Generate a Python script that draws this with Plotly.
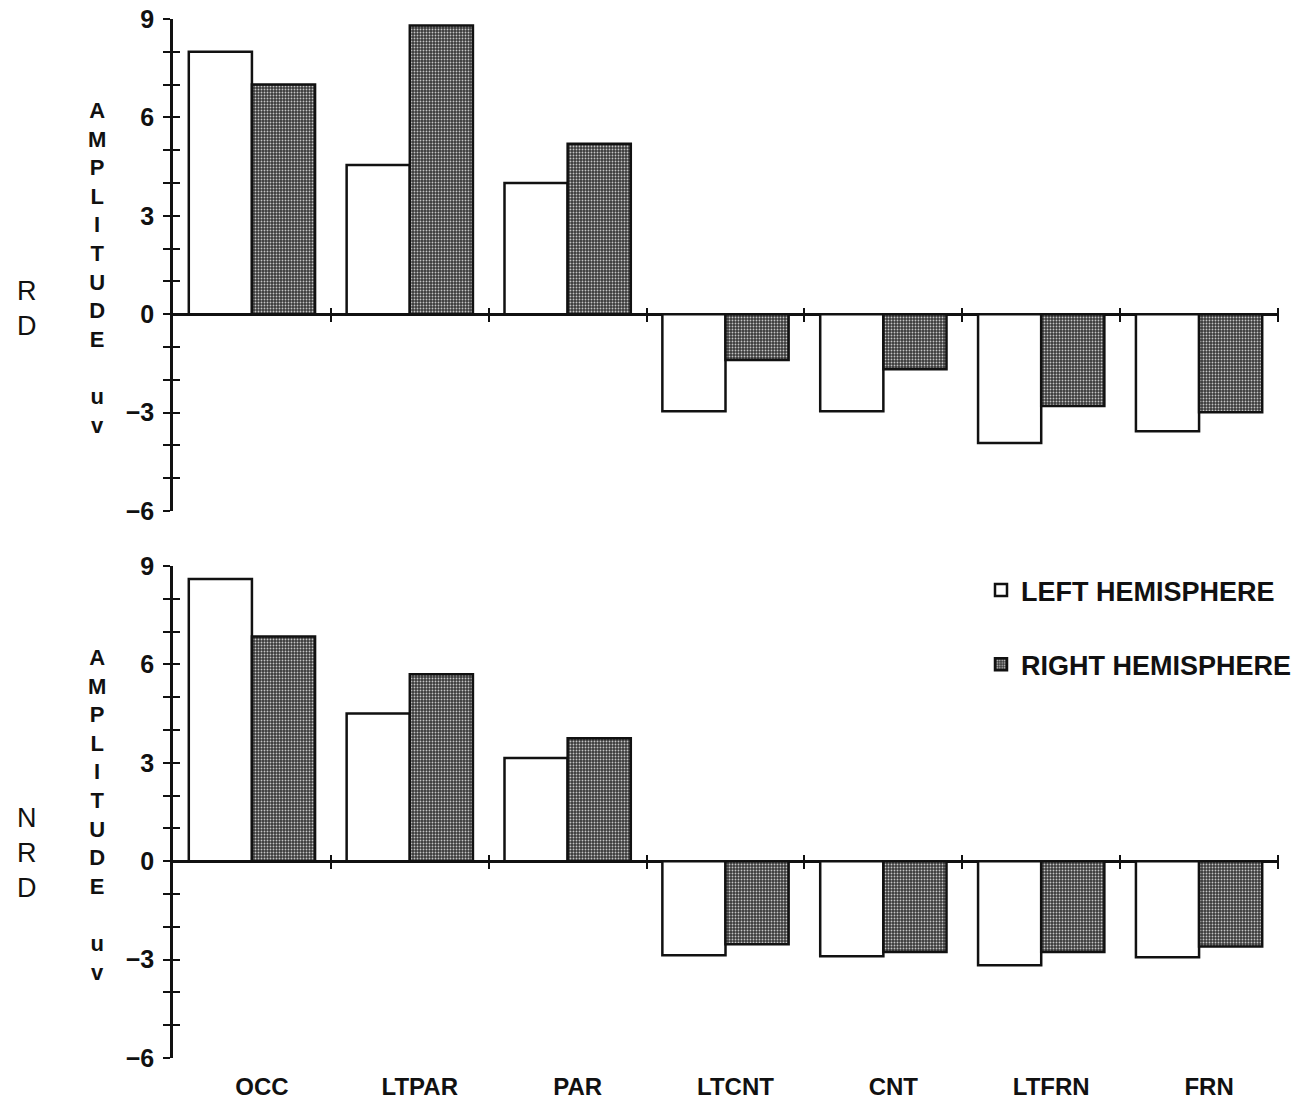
import plotly.graph_objects as go

categories = ["OCC", "LTPAR", "PAR", "LTCNT", "CNT", "LTFRN", "FRN"]
rd_left = [8.0, 4.55, 4.0, -2.96, -2.96, -3.93, -3.57]
rd_right = [7.0, 8.8, 5.2, -1.4, -1.68, -2.8, -2.99]
nrd_left = [8.6, 4.5, 3.15, -2.87, -2.9, -3.17, -2.93]
nrd_right = [6.85, 5.7, 3.75, -2.53, -2.77, -2.77, -2.6]

y_ticks = list(range(-6, 10))
y_ticktext = ["\u22126", "", "", "\u22123", "", "", "0", "", "", "3", "", "", "6", "", "", "9"]
panel_names = ["RD", "NRD"]
series_names = ["LEFT HEMISPHERE", "RIGHT HEMISPHERE"]
axis_title_word = "AMPLITUDE"
axis_unit_word = "uv"

W, H = 1301, 1112
ML, MR, MT, MB = 173, 23, 19, 54
PW = W - ML - MR
PH = H - MT - MB
YMIN, YMAX = -6, 9

def px_x(p):
    return (p - ML) / PW

def px_y(p):
    return (H - MB - p) / PH

top_dom = [px_y(511), 1.0]
bot_dom = [0.0, px_y(566)]

FONT = "Liberation Sans, Arial, sans-serif"
BLACK = "#111111"

n = len(categories)
xs = list(range(n))
xr = [-0.5, n - 0.5]
bounds = [i + 0.5 for i in range(n)]

fig = go.Figure()

left_marker = dict(color="white", line=dict(color=BLACK, width=2.5))
right_marker = dict(
    color="#3a3a3a",
    line=dict(color=BLACK, width=2.5),
    pattern=dict(shape=".", fgcolor="#c4c4c4", bgcolor="#3a3a3a", size=3, solidity=0.3, fillmode="replace"),
)

data_sets = [(rd_left, rd_right, "x", "y"), (nrd_left, nrd_right, "x2", "y2")]
for k, (lv, rv, xa, ya) in enumerate(data_sets):
    fig.add_trace(go.Bar(x=xs, y=lv, name=series_names[0], marker=left_marker, xaxis=xa, yaxis=ya,
                         legendgroup="L", showlegend=(k == 1)))
    fig.add_trace(go.Bar(x=xs, y=rv, name=series_names[1], marker=right_marker, xaxis=xa, yaxis=ya,
                         legendgroup="R", showlegend=(k == 1)))

def zero_pos(dom):
    return dom[0] + (dom[1] - dom[0]) * (0 - YMIN) / (YMAX - YMIN)

yax_common = dict(range=[YMIN, YMAX], tickmode="array", tickvals=y_ticks, showgrid=False,
                  ticklen=7, tickwidth=2, tickcolor=BLACK)

layout = dict(
    width=W, height=H,
    margin=dict(l=ML, r=MR, t=MT, b=MB, pad=0, autoexpand=False),
    paper_bgcolor="white", plot_bgcolor="white",
    barmode="group", bargap=0.2, bargroupgap=0.0,
    font=dict(family=FONT, color=BLACK),
    showlegend=True,
    legend=dict(x=px_x(981), y=px_y(566), xanchor="left", yanchor="top",
                font=dict(size=27, family=FONT, color=BLACK, weight="bold"),
                traceorder="grouped", tracegroupgap=36, bgcolor="rgba(0,0,0,0)",
                itemclick=False),
)

for k, dom in enumerate([top_dom, bot_dom]):
    sx = "" if k == 0 else "2"
    xa_main = "xaxis" + sx
    ya_main = "yaxis" + sx
    xname = "x" + sx
    yname = "y" + sx
    zp = zero_pos(dom)
    layout[xa_main] = dict(range=xr, domain=[0, 1], anchor="free", position=zp + 7 / PH,
                           showline=False, showgrid=False, zeroline=False,
                           tickmode="array", tickvals=bounds, ticks="outside", ticklen=14,
                           tickwidth=2, tickcolor=BLACK, showticklabels=False)
    layout[ya_main] = dict(domain=dom, anchor=xname, showline=True, linewidth=2.5, linecolor=BLACK,
                           ticks="outside", ticktext=y_ticktext, zeroline=True, zerolinecolor=BLACK,
                           zerolinewidth=2.5,
                           tickfont=dict(size=25, family=FONT, color=BLACK, weight="bold"),
                           ticklabelstandoff=4, **yax_common)
    oy = "yaxis" + str(3 + k)
    layout[oy] = dict(overlaying=yname, anchor=xname, side="left", ticks="inside",
                      showticklabels=False, showline=False, zeroline=False, **yax_common)

layout["xaxis5"] = dict(range=xr, overlaying="x2", anchor="y2", side="bottom",
                        tickmode="array", tickvals=xs, ticktext=categories, ticks="",
                        showline=False, showgrid=False, zeroline=False, ticklabelshift=10,
                        ticklabelstandoff=12,
                        tickfont=dict(size=24, family=FONT, color=BLACK, weight="bold"))

fig.update_layout(**layout)

fig.add_trace(go.Scatter(x=[xs[0]], y=[0], xaxis="x5", yaxis="y2", mode="markers",
                         marker=dict(opacity=0), showlegend=False, hoverinfo="skip"))
fig.add_trace(go.Scatter(x=[xs[0]], y=[0], xaxis="x", yaxis="y3", mode="markers",
                         marker=dict(opacity=0), showlegend=False, hoverinfo="skip"))
fig.add_trace(go.Scatter(x=[xs[0]], y=[0], xaxis="x2", yaxis="y4", mode="markers",
                         marker=dict(opacity=0), showlegend=False, hoverinfo="skip"))

# vertical stacked titles, one text element each
zero_px = [314, 861]
amp_text = "<br>".join(list(axis_title_word)) + "<br><br>" + "<br>".join(list(axis_unit_word))
for k, name in enumerate(panel_names):
    z = zero_px[k]
    fig.add_annotation(text=amp_text, x=px_x(97), y=px_y(z - 46), xref="paper", yref="paper",
                       showarrow=False, xanchor="center", yanchor="middle", align="center",
                       font=dict(size=22, family=FONT, color=BLACK, weight="bold"))
    side_text = "<br>".join(list(name))
    center = z - 6 if len(name) == 2 else z - 8
    fig.add_annotation(text=side_text, x=px_x(27), y=px_y(center), xref="paper", yref="paper",
                       showarrow=False, xanchor="center", yanchor="middle", align="center",
                       font=dict(size=27, family=FONT, color=BLACK))

fig.write_html("out.html")
